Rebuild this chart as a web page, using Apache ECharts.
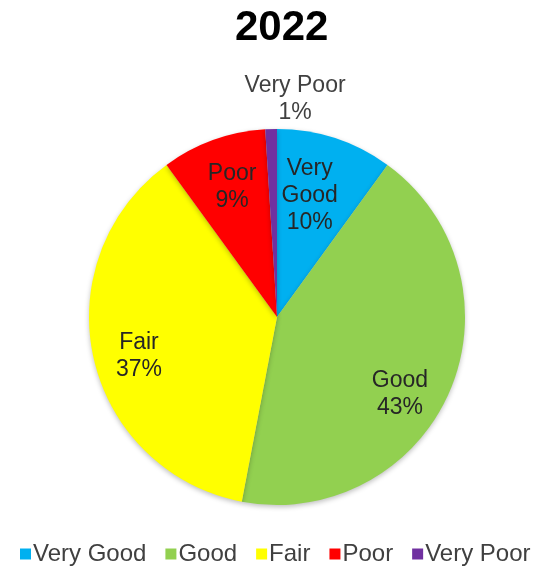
<!DOCTYPE html>
<html>
<head>
<meta charset="utf-8">
<script src="https://cdn.jsdelivr.net/npm/echarts@6/dist/echarts.min.js"></script>
<style>
  html, body { margin: 0; padding: 0; background: #ffffff; }
  #chart { width: 536px; height: 571px; }
</style>
</head>
<body>
<div id="chart"></div>
<script>
// Condition ratings for 2022, in percent of the total
const chartTitle = '2022';
const categories = ['Very Good', 'Good', 'Fair', 'Poor', 'Very Poor'];
const shares = [10, 43, 37, 9, 1];
const sliceColors = ['#00B0F0', '#92D050', '#FFFF00', '#FF0000', '#7030A0'];

const FONT = '"Liberation Sans", Arial, sans-serif';
const CENTER = [277, 317];
const RADIUS = 188;

// Small per-slice label nudges (px) so each label sits comfortably in its slice
const labelNudge = [[-10, 10], [-4, 22], [-3, 9], [2, 0], [0, 0]];

const pieData = categories.map((name, i) => ({
  name: name,
  value: shares[i],
  itemStyle: { color: sliceColors[i] }
}));

// Transparent copy used only to place the labels out towards the rim
const labelData = categories.map((name, i) => {
  const item = { name: name, value: shares[i], itemStyle: { color: 'rgba(0,0,0,0)' } };
  if (i === categories.length - 1) {
    item.label = { position: 'outside', color: '#404040' };
    item.labelLine = { show: false };
  }
  return item;
});

const chart = echarts.init(document.getElementById('chart'), null, { renderer: 'canvas' });

chart.setOption({
  backgroundColor: '#ffffff',
  animation: false,
  title: {
    text: chartTitle,
    left: 230,
    top: 2,
    textStyle: { fontFamily: FONT, fontSize: 42, fontWeight: 'bold', color: '#000000' }
  },
  legend: {
    data: categories,
    top: 537,
    left: 15,
    icon: 'rect',
    itemWidth: 11,
    itemHeight: 11,
    itemGap: 19,
    textStyle: { fontFamily: FONT, fontSize: 24, color: '#404040', padding: [0, 0, 0, -3] }
  },
  series: [
    {
      type: 'pie',
      center: CENTER,
      radius: [0, RADIUS],
      startAngle: 90,
      clockwise: true,
      silent: true,
      data: pieData,
      label: { show: false },
      labelLine: { show: false },
      itemStyle: {
        borderWidth: 0,
        shadowBlur: 5,
        shadowOffsetY: 2,
        shadowColor: 'rgba(0,0,0,0.25)'
      }
    },
    {
      type: 'pie',
      center: CENTER,
      radius: [RADIUS * 0.44, RADIUS],
      startAngle: 90,
      clockwise: true,
      silent: true,
      percentPrecision: 0,
      data: labelData,
      itemStyle: { borderWidth: 0 },
      label: {
        show: true,
        position: 'inside',
        fontFamily: FONT,
        fontSize: 23,
        lineHeight: 27,
        color: '#262626',
        formatter: function (p) {
          const name = p.dataIndex === 0 ? p.name.replace(' ', '\n') : p.name;
          return name + '\n' + p.percent + '%';
        }
      },
      labelLine: { show: false },
      labelLayout: function (params) {
        const i = params.dataIndex;
        if (i === categories.length - 1) {
          const r = params.rect;
          return {
            x: r.x + r.width / 2 + 24,
            y: r.y - 3,
            align: 'center',
            verticalAlign: 'bottom'
          };
        }
        return { dx: labelNudge[i][0], dy: labelNudge[i][1] };
      }
    }
  ]
});
</script>
</body>
</html>
